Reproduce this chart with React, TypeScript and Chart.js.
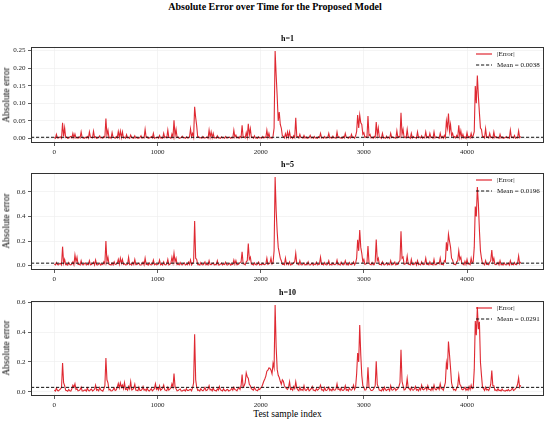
import React, { useEffect, useRef } from "react";
import { Chart, registerables } from "chart.js";

Chart.register(...registerables);

// ---------------- data ----------------
const SAMPLE_STEP = 10; // test-sample index spacing between stored values
const xTicks = [0, 1000, 2000, 3000, 4000];
const xRange = [-226, 4746];

const panelTitles = ["h=1", "h=5", "h=10"];
const meanValues = [0.0038, 0.0196, 0.0291];
const meanLabels = ["Mean = 0.0038", "Mean = 0.0196", "Mean = 0.0291"];
const yTicksH1 = [0, 0.05, 0.1, 0.15, 0.2, 0.25];
const yTicksH5 = [0, 0.2, 0.4, 0.6];
const yTicksH10 = [0, 0.2, 0.4, 0.6];

const errorH1 = [
  0.003, 0.001, 0.012, 0.002, 0.002, 0.004, 0.005, 0.001, 0.045, 0.006, 0.031, 0.003, 0.004, 0.001, 0.002, 0.005, 0.006, 0.002, 0.015, 0.003,
  0.013, 0.002, 0.003, 0.001, 0.005, 0.002, 0.019, 0.003, 0.002, 0.001, 0.004, 0.002, 0.006, 0.001, 0.019, 0.004, 0.003, 0.002, 0.021, 0.003,
  0.005, 0.001, 0.002, 0.003, 0.008, 0.002, 0.003, 0.001, 0.006, 0.004, 0.057, 0.010, 0.024, 0.002, 0.004, 0.001, 0.017, 0.003, 0.003, 0.001,
  0.006, 0.002, 0.020, 0.004, 0.021, 0.003, 0.019, 0.002, 0.004, 0.001, 0.011, 0.002, 0.003, 0.001, 0.010, 0.003, 0.002, 0.001, 0.008, 0.002,
  0.004, 0.001, 0.002, 0.003, 0.008, 0.001, 0.003, 0.002, 0.026, 0.004, 0.005, 0.001, 0.002, 0.003, 0.006, 0.002, 0.015, 0.001, 0.003, 0.002,
  0.004, 0.001, 0.009, 0.002, 0.002, 0.001, 0.015, 0.003, 0.005, 0.002, 0.024, 0.003, 0.003, 0.001, 0.013, 0.004, 0.052, 0.008, 0.026, 0.003,
  0.004, 0.001, 0.002, 0.003, 0.007, 0.002, 0.003, 0.001, 0.005, 0.002, 0.002, 0.004, 0.028, 0.006, 0.015, 0.004, 0.090, 0.060, 0.036, 0.004,
  0.005, 0.002, 0.003, 0.001, 0.006, 0.002, 0.002, 0.003, 0.004, 0.001, 0.024, 0.004, 0.019, 0.003, 0.015, 0.002, 0.003, 0.001, 0.008, 0.002,
  0.002, 0.001, 0.005, 0.002, 0.003, 0.001, 0.006, 0.002, 0.002, 0.003, 0.004, 0.001, 0.003, 0.002, 0.024, 0.004, 0.010, 0.002, 0.004, 0.001,
  0.006, 0.003, 0.038, 0.004, 0.005, 0.002, 0.017, 0.004, 0.042, 0.010, 0.028, 0.003, 0.004, 0.001, 0.008, 0.002, 0.002, 0.001, 0.005, 0.002,
  0.003, 0.001, 0.006, 0.002, 0.004, 0.003, 0.024, 0.004, 0.015, 0.002, 0.003, 0.001, 0.007, 0.030, 0.248, 0.180, 0.120, 0.050, 0.075, 0.040,
  0.030, 0.008, 0.006, 0.002, 0.014, 0.003, 0.019, 0.004, 0.019, 0.002, 0.005, 0.001, 0.008, 0.003, 0.059, 0.006, 0.006, 0.002, 0.012, 0.003,
  0.003, 0.001, 0.009, 0.002, 0.005, 0.001, 0.002, 0.003, 0.009, 0.002, 0.004, 0.001, 0.006, 0.002, 0.002, 0.001, 0.005, 0.003, 0.015, 0.002,
  0.003, 0.001, 0.006, 0.002, 0.002, 0.003, 0.015, 0.002, 0.004, 0.001, 0.007, 0.002, 0.003, 0.001, 0.019, 0.003, 0.005, 0.002, 0.002, 0.001,
  0.006, 0.002, 0.015, 0.003, 0.003, 0.001, 0.005, 0.002, 0.012, 0.003, 0.004, 0.001, 0.008, 0.020, 0.067, 0.030, 0.067, 0.045, 0.040, 0.012,
  0.017, 0.004, 0.005, 0.003, 0.064, 0.008, 0.012, 0.002, 0.004, 0.001, 0.006, 0.003, 0.047, 0.010, 0.030, 0.004, 0.004, 0.001, 0.015, 0.002,
  0.003, 0.001, 0.007, 0.002, 0.004, 0.001, 0.015, 0.003, 0.005, 0.002, 0.003, 0.001, 0.022, 0.003, 0.006, 0.004, 0.073, 0.012, 0.026, 0.003,
  0.005, 0.002, 0.026, 0.003, 0.004, 0.001, 0.015, 0.002, 0.006, 0.003, 0.003, 0.001, 0.019, 0.003, 0.005, 0.002, 0.008, 0.001, 0.004, 0.002,
  0.019, 0.003, 0.006, 0.002, 0.015, 0.003, 0.004, 0.001, 0.019, 0.002, 0.005, 0.003, 0.003, 0.001, 0.015, 0.002, 0.006, 0.001, 0.009, 0.003,
  0.050, 0.030, 0.071, 0.020, 0.040, 0.008, 0.015, 0.003, 0.006, 0.002, 0.009, 0.004, 0.038, 0.006, 0.022, 0.003, 0.012, 0.002, 0.005, 0.001,
  0.017, 0.003, 0.006, 0.002, 0.015, 0.003, 0.009, 0.020, 0.149, 0.100, 0.179, 0.120, 0.073, 0.030, 0.026, 0.005, 0.006, 0.002, 0.028, 0.004,
  0.005, 0.002, 0.015, 0.003, 0.004, 0.001, 0.019, 0.003, 0.006, 0.002, 0.003, 0.001, 0.012, 0.002, 0.005, 0.001, 0.002, 0.003, 0.006, 0.002,
  0.003, 0.001, 0.024, 0.003, 0.004, 0.002, 0.009, 0.001, 0.003, 0.002, 0.022, 0.003, 0.006,
];

const errorH5 = [
  0.012, 0.005, 0.024, 0.008, 0.006, 0.015, 0.018, 0.006, 0.154, 0.020, 0.050, 0.008, 0.010, 0.004, 0.025, 0.009, 0.005, 0.012, 0.030, 0.006,
  0.086, 0.030, 0.068, 0.010, 0.012, 0.005, 0.040, 0.008, 0.006, 0.014, 0.022, 0.005, 0.010, 0.007, 0.040, 0.006, 0.008, 0.015, 0.028, 0.005,
  0.045, 0.007, 0.006, 0.012, 0.020, 0.004, 0.012, 0.008, 0.030, 0.015, 0.200, 0.030, 0.068, 0.010, 0.008, 0.004, 0.022, 0.006, 0.030, 0.009,
  0.010, 0.018, 0.050, 0.012, 0.060, 0.020, 0.050, 0.010, 0.015, 0.005, 0.006, 0.012, 0.068, 0.008, 0.012, 0.004, 0.025, 0.010, 0.050, 0.007,
  0.008, 0.014, 0.020, 0.005, 0.005, 0.010, 0.028, 0.006, 0.060, 0.010, 0.010, 0.004, 0.022, 0.009, 0.006, 0.012, 0.045, 0.007, 0.015, 0.005,
  0.008, 0.013, 0.045, 0.006, 0.012, 0.004, 0.030, 0.008, 0.006, 0.014, 0.050, 0.006, 0.010, 0.020, 0.068, 0.025, 0.100, 0.030, 0.060, 0.008,
  0.012, 0.005, 0.025, 0.009, 0.006, 0.014, 0.022, 0.005, 0.010, 0.007, 0.028, 0.010, 0.045, 0.006, 0.018, 0.030, 0.362, 0.060, 0.050, 0.008,
  0.010, 0.004, 0.025, 0.008, 0.006, 0.013, 0.030, 0.006, 0.012, 0.005, 0.040, 0.009, 0.008, 0.014, 0.022, 0.005, 0.010, 0.008, 0.040, 0.006,
  0.006, 0.012, 0.020, 0.005, 0.012, 0.008, 0.028, 0.006, 0.005, 0.013, 0.018, 0.004, 0.010, 0.009, 0.045, 0.012, 0.040, 0.006, 0.008, 0.014,
  0.025, 0.030, 0.113, 0.015, 0.012, 0.006, 0.030, 0.040, 0.180, 0.050, 0.068, 0.012, 0.010, 0.005, 0.022, 0.008, 0.006, 0.013, 0.028, 0.005,
  0.010, 0.006, 0.020, 0.009, 0.008, 0.015, 0.060, 0.010, 0.015, 0.020, 0.060, 0.012, 0.020, 0.120, 0.720, 0.450, 0.275, 0.150, 0.105, 0.060,
  0.040, 0.010, 0.012, 0.006, 0.060, 0.010, 0.020, 0.008, 0.030, 0.005, 0.008, 0.013, 0.025, 0.030, 0.100, 0.015, 0.012, 0.006, 0.040, 0.008,
  0.006, 0.012, 0.022, 0.005, 0.010, 0.008, 0.030, 0.006, 0.005, 0.013, 0.020, 0.004, 0.012, 0.009, 0.028, 0.006, 0.008, 0.012, 0.068, 0.010,
  0.012, 0.005, 0.025, 0.008, 0.006, 0.014, 0.040, 0.006, 0.010, 0.005, 0.022, 0.009, 0.008, 0.013, 0.045, 0.007, 0.012, 0.004, 0.028, 0.010,
  0.006, 0.012, 0.040, 0.008, 0.010, 0.005, 0.025, 0.009, 0.008, 0.014, 0.030, 0.006, 0.020, 0.060, 0.210, 0.120, 0.290, 0.150, 0.100, 0.030,
  0.050, 0.010, 0.012, 0.020, 0.160, 0.020, 0.010, 0.006, 0.025, 0.008, 0.008, 0.030, 0.213, 0.040, 0.060, 0.010, 0.010, 0.005, 0.030, 0.008,
  0.006, 0.013, 0.022, 0.005, 0.012, 0.008, 0.040, 0.006, 0.008, 0.014, 0.028, 0.005, 0.010, 0.009, 0.030, 0.040, 0.280, 0.060, 0.070, 0.010,
  0.012, 0.020, 0.078, 0.012, 0.010, 0.006, 0.050, 0.009, 0.008, 0.013, 0.025, 0.005, 0.040, 0.008, 0.012, 0.006, 0.030, 0.010, 0.008, 0.014,
  0.060, 0.010, 0.012, 0.006, 0.030, 0.009, 0.010, 0.005, 0.050, 0.008, 0.008, 0.014, 0.025, 0.015, 0.060, 0.010, 0.012, 0.006, 0.040, 0.030,
  0.190, 0.120, 0.256, 0.200, 0.150, 0.060, 0.045, 0.012, 0.010, 0.006, 0.030, 0.040, 0.120, 0.050, 0.068, 0.015, 0.012, 0.006, 0.035, 0.010,
  0.050, 0.012, 0.015, 0.008, 0.060, 0.020, 0.030, 0.150, 0.480, 0.400, 0.640, 0.500, 0.290, 0.120, 0.060, 0.015, 0.015, 0.006, 0.040, 0.010,
  0.010, 0.006, 0.028, 0.040, 0.127, 0.030, 0.060, 0.010, 0.008, 0.012, 0.025, 0.006, 0.040, 0.008, 0.010, 0.005, 0.022, 0.009, 0.006, 0.012,
  0.020, 0.005, 0.040, 0.008, 0.010, 0.006, 0.025, 0.009, 0.008, 0.020, 0.078, 0.015, 0.030,
];

const errorH10 = [
  0.010, 0.004, 0.025, 0.008, 0.005, 0.012, 0.018, 0.030, 0.193, 0.060, 0.040, 0.010, 0.008, 0.003, 0.015, 0.006, 0.004, 0.020, 0.044, 0.030,
  0.053, 0.015, 0.020, 0.006, 0.008, 0.014, 0.030, 0.005, 0.005, 0.010, 0.012, 0.004, 0.025, 0.008, 0.006, 0.013, 0.018, 0.005, 0.010, 0.016,
  0.044, 0.010, 0.015, 0.006, 0.028, 0.012, 0.008, 0.004, 0.020, 0.040, 0.226, 0.080, 0.060, 0.012, 0.015, 0.005, 0.006, 0.014, 0.025, 0.008,
  0.012, 0.030, 0.055, 0.025, 0.060, 0.030, 0.045, 0.020, 0.060, 0.015, 0.020, 0.010, 0.035, 0.018, 0.067, 0.012, 0.015, 0.025, 0.050, 0.010,
  0.010, 0.006, 0.030, 0.008, 0.008, 0.015, 0.035, 0.010, 0.015, 0.006, 0.025, 0.009, 0.005, 0.012, 0.020, 0.006, 0.012, 0.020, 0.053, 0.015,
  0.025, 0.012, 0.040, 0.010, 0.015, 0.025, 0.045, 0.012, 0.010, 0.006, 0.030, 0.010, 0.018, 0.025, 0.053, 0.030, 0.122, 0.035, 0.020, 0.006,
  0.008, 0.014, 0.018, 0.005, 0.005, 0.010, 0.012, 0.004, 0.020, 0.008, 0.008, 0.013, 0.015, 0.006, 0.025, 0.060, 0.386, 0.080, 0.030, 0.008,
  0.012, 0.005, 0.020, 0.010, 0.006, 0.014, 0.028, 0.008, 0.010, 0.020, 0.040, 0.012, 0.015, 0.006, 0.025, 0.010, 0.008, 0.004, 0.018, 0.010,
  0.035, 0.012, 0.010, 0.005, 0.020, 0.008, 0.006, 0.013, 0.015, 0.005, 0.008, 0.012, 0.022, 0.010, 0.030, 0.014, 0.012, 0.006, 0.020, 0.030,
  0.015, 0.040, 0.115, 0.030, 0.040, 0.060, 0.127, 0.100, 0.090, 0.050, 0.040, 0.020, 0.015, 0.010, 0.030, 0.012, 0.010, 0.006, 0.020, 0.015,
  0.025, 0.030, 0.050, 0.070, 0.085, 0.105, 0.138, 0.145, 0.160, 0.158, 0.145, 0.120, 0.190, 0.160, 0.583, 0.300, 0.150, 0.110, 0.095, 0.070,
  0.050, 0.080, 0.070, 0.040, 0.030, 0.020, 0.015, 0.030, 0.067, 0.015, 0.020, 0.010, 0.035, 0.020, 0.067, 0.025, 0.012, 0.006, 0.030, 0.010,
  0.015, 0.008, 0.040, 0.012, 0.008, 0.015, 0.025, 0.006, 0.012, 0.020, 0.035, 0.010, 0.010, 0.005, 0.020, 0.010, 0.015, 0.025, 0.044, 0.012,
  0.012, 0.005, 0.028, 0.010, 0.008, 0.016, 0.030, 0.008, 0.015, 0.006, 0.022, 0.012, 0.010, 0.020, 0.053, 0.015, 0.018, 0.008, 0.025, 0.010,
  0.008, 0.015, 0.040, 0.010, 0.015, 0.006, 0.025, 0.012, 0.010, 0.020, 0.044, 0.015, 0.030, 0.120, 0.260, 0.200, 0.448, 0.250, 0.110, 0.040,
  0.030, 0.010, 0.012, 0.030, 0.164, 0.030, 0.020, 0.008, 0.008, 0.014, 0.025, 0.040, 0.204, 0.050, 0.030, 0.010, 0.010, 0.005, 0.020, 0.008,
  0.030, 0.012, 0.008, 0.015, 0.018, 0.006, 0.040, 0.012, 0.010, 0.018, 0.025, 0.008, 0.015, 0.020, 0.035, 0.060, 0.282, 0.070, 0.040, 0.012,
  0.015, 0.030, 0.089, 0.025, 0.020, 0.010, 0.030, 0.012, 0.010, 0.018, 0.035, 0.010, 0.015, 0.006, 0.025, 0.012, 0.044, 0.015, 0.012, 0.020,
  0.030, 0.012, 0.040, 0.015, 0.015, 0.008, 0.028, 0.012, 0.044, 0.018, 0.012, 0.020, 0.030, 0.015, 0.053, 0.020, 0.020, 0.010, 0.035, 0.060,
  0.193, 0.150, 0.337, 0.250, 0.160, 0.060, 0.030, 0.012, 0.015, 0.008, 0.025, 0.040, 0.110, 0.050, 0.040, 0.015, 0.012, 0.020, 0.030, 0.010,
  0.020, 0.010, 0.035, 0.015, 0.044, 0.020, 0.025, 0.150, 0.475, 0.380, 0.570, 0.420, 0.470, 0.200, 0.110, 0.030, 0.020, 0.008, 0.030, 0.012,
  0.015, 0.008, 0.025, 0.050, 0.142, 0.040, 0.040, 0.010, 0.012, 0.006, 0.020, 0.008, 0.010, 0.005, 0.018, 0.008, 0.006, 0.004, 0.010, 0.006,
  0.015, 0.006, 0.008, 0.012, 0.026, 0.008, 0.012, 0.020, 0.030, 0.050, 0.093, 0.030, 0.044,
];

// ---------------- layout / style ----------------
const FONT = "'Liberation Serif', 'Times New Roman', serif";
const RED = "rgba(220, 18, 28, 0.9)";
const PLOT_LEFT = 31;
const PLOT_RIGHT = 544;
const W = 550;

type Panel = {
  title: string;
  errors: number[];
  mean: number;
  meanLabel: string;
  yTicks: number[];
  yMin: number;
  yMax: number;
  decimals: number;
  top: number;
  height: number;
};

const panels: Panel[] = [
  { title: panelTitles[0], errors: errorH1, mean: meanValues[0], meanLabel: meanLabels[0], yTicks: yTicksH1, yMin: -0.0124, yMax: 0.2604, decimals: 2, top: 40, height: 115 },
  { title: panelTitles[1], errors: errorH5, mean: meanValues[1], meanLabel: meanLabels[1], yTicks: yTicksH5, yMin: -0.036, yMax: 0.756, decimals: 1, top: 166, height: 116 },
  { title: panelTitles[2], errors: errorH10, mean: meanValues[2], meanLabel: meanLabels[2], yTicks: yTicksH10, yMin: -0.029, yMax: 0.612, decimals: 1, top: 294, height: 114 },
];
const PAD_TOP = 6;
const XAXIS_H = 12;

function PanelChart({ p }: { p: Panel }) {
  const ref = useRef<HTMLCanvasElement | null>(null);
  useEffect(() => {
    if (!ref.current) return;
    const overlay = {
      id: "meanFrame",
      afterDatasetsDraw(chart: any) {
        const { ctx, chartArea: a, scales } = chart;
        const y = scales.y.getPixelForValue(p.mean);
        ctx.save();
        ctx.beginPath();
        ctx.rect(a.left, a.top, a.right - a.left, a.bottom - a.top);
        ctx.clip();
        ctx.strokeStyle = "#111";
        ctx.lineWidth = 1;
        ctx.setLineDash([3.2, 1.8]);
        ctx.beginPath();
        ctx.moveTo(a.left, y);
        ctx.lineTo(a.right, y);
        ctx.stroke();
        ctx.restore();
        ctx.save();
        ctx.strokeStyle = "#333";
        ctx.lineWidth = 1;
        ctx.strokeRect(Math.round(a.left) + 0.5, Math.round(a.top) + 0.5, Math.round(a.right - a.left) - 1, Math.round(a.bottom - a.top) - 1);
        ctx.restore();
      },
    };
    const chart = new Chart(ref.current, {
      type: "line",
      data: {
        datasets: [
          {
            label: "|Error|",
            data: p.errors.map((v, i) => ({ x: i * SAMPLE_STEP, y: v })),
            borderColor: RED,
            borderWidth: 1.1,
            pointRadius: 0,
            tension: 0,
            fill: false,
          },
        ],
      },
      options: {
        animation: false,
        responsive: false,
        layout: { padding: { left: 0, right: W - PLOT_RIGHT, top: PAD_TOP, bottom: 0 } },
        plugins: { legend: { display: false }, tooltip: { enabled: false }, title: { display: false } },
        scales: {
          x: {
            type: "linear",
            min: xRange[0],
            max: xRange[1],
            afterBuildTicks: (s: any) => {
              s.ticks = xTicks.map((v) => ({ value: v }));
            },
            afterFit: (s: any) => {
              s.height = XAXIS_H;
            },
            ticks: {
              font: { family: FONT, size: 7 },
              color: "#222",
              padding: 1.5,
              maxRotation: 0,
              autoSkip: false,
              callback: (v: any) => String(v),
            },
            grid: { color: "#ececec", lineWidth: 0.6, tickColor: "#333", tickLength: 3, tickWidth: 0.8 },
            border: { display: false },
          },
          y: {
            type: "linear",
            min: p.yMin,
            max: p.yMax,
            afterBuildTicks: (s: any) => {
              s.ticks = p.yTicks.map((v) => ({ value: v }));
            },
            afterFit: (s: any) => {
              s.width = PLOT_LEFT;
            },
            ticks: {
              font: { family: FONT, size: 7 },
              color: "#222",
              padding: 2.5,
              autoSkip: false,
              callback: (v: any) => Number(v).toFixed(p.decimals),
            },
            grid: { color: "#ececec", lineWidth: 0.6, tickColor: "#333", tickLength: 3, tickWidth: 0.8 },
            border: { display: false },
          },
        },
      },
      plugins: [overlay],
    } as any);
    return () => chart.destroy();
  }, [p]);
  return (
    <canvas
      ref={ref}
      width={W}
      height={p.height}
      style={{ position: "absolute", left: 0, top: p.top, width: W, height: p.height }}
    />
  );
}

function Label({ x, y, size, bold, text, rotate }: { x: number; y: number; size: number; bold?: boolean; text: string; rotate?: boolean }) {
  return (
    <div
      style={{
        position: "absolute",
        left: x,
        top: y,
        transform: `translate(-50%, -50%)${rotate ? " rotate(-90deg)" : ""}`,
        fontFamily: FONT,
        fontSize: size,
        fontWeight: bold ? 700 : 400,
        lineHeight: 1,
        whiteSpace: "nowrap",
        color: "#000",
      }}
    >
      {text}
    </div>
  );
}

function Legend({ plotTop, meanLabel }: { plotTop: number; meanLabel: string }) {
  const rows = [
    { y: plotTop + 8.3, dash: false, text: "|Error|" },
    { y: plotTop + 19, dash: true, text: meanLabel },
  ];
  return (
    <>
      {rows.map((r, i) => (
        <div key={i} style={{ position: "absolute", left: 476, top: r.y - 5, height: 10, display: "flex", alignItems: "center" }}>
          <svg width={17} height={10} style={{ display: "block" }}>
            <line
              x1={0}
              y1={5}
              x2={16}
              y2={5}
              stroke={r.dash ? "#111" : RED}
              strokeWidth={r.dash ? 1 : 1.2}
              strokeDasharray={r.dash ? "3.2 1.8" : undefined}
            />
          </svg>
          <span style={{ marginLeft: 4, fontFamily: FONT, fontSize: 7, lineHeight: 1, whiteSpace: "nowrap", color: "#111" }}>{r.text}</span>
        </div>
      ))}
    </>
  );
}

export default function App() {
  const cx = (PLOT_LEFT + PLOT_RIGHT) / 2;
  return (
    <div style={{ position: "absolute", left: 0, top: 0, width: W, height: 421, background: "#fff", overflow: "hidden" }}>
      <Label x={W / 2} y={7} size={10} bold text="Absolute Error over Time for the Proposed Model" />
      {panels.map((p, i) => {
        const plotTop = p.top + PAD_TOP;
        const plotBottom = p.top + p.height - XAXIS_H;
        return (
          <React.Fragment key={i}>
            <PanelChart p={p} />
            <Label x={cx} y={plotTop - 7} size={8} bold text={p.title} />
            <Label x={7} y={(plotTop + plotBottom) / 2} size={9.5} text="Absolute error" rotate />
            <Legend plotTop={plotTop} meanLabel={p.meanLabel} />
          </React.Fragment>
        );
      })}
      <Label x={cx} y={415} size={9.5} text="Test sample index" />
    </div>
  );
}
